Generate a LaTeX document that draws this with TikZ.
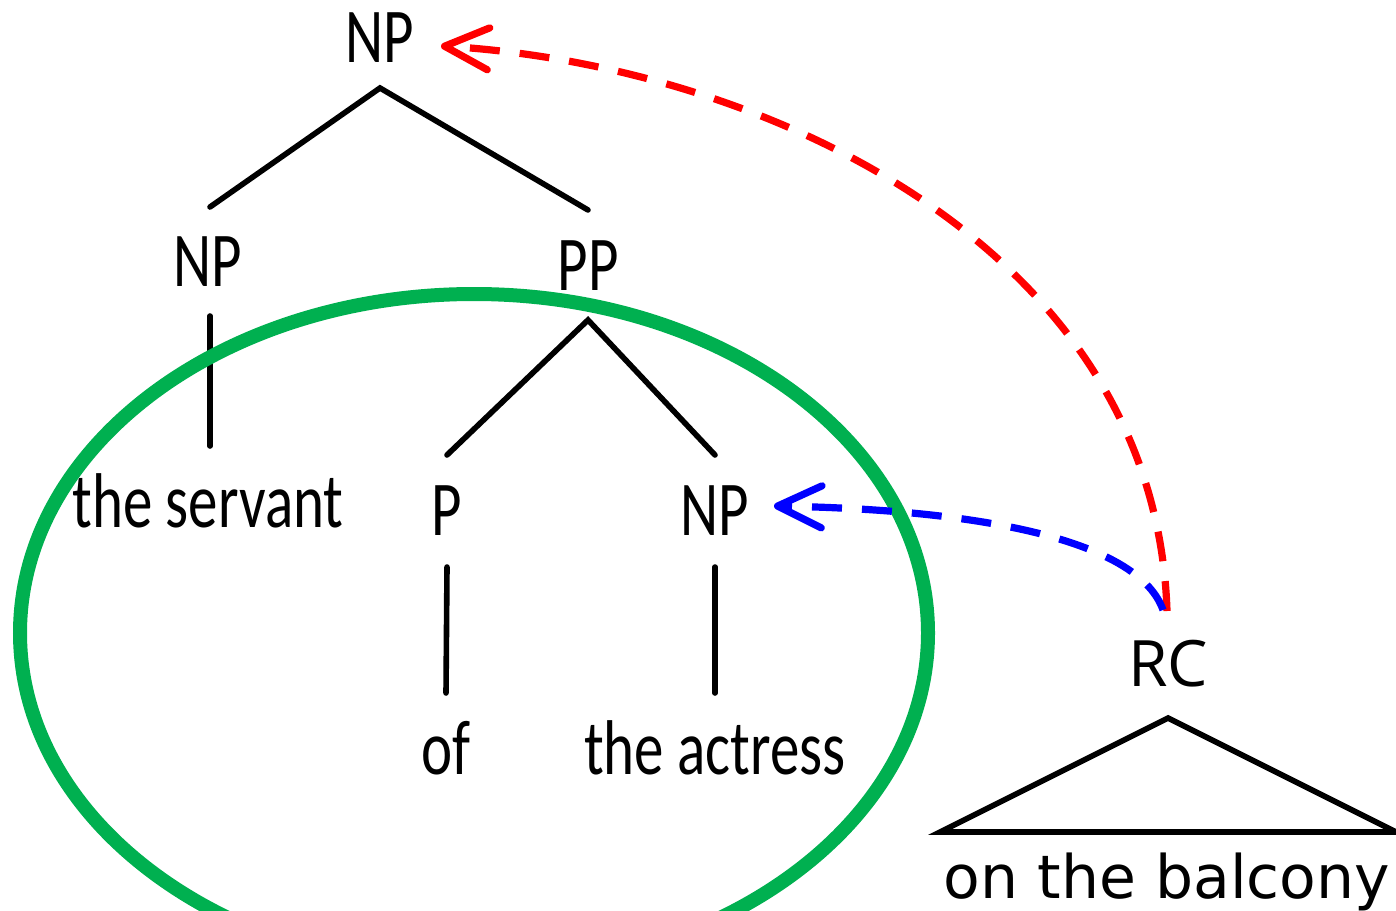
\documentclass[tikz,border=0pt]{standalone}
\usepackage{fontspec}
\usepackage{graphicx}
\usetikzlibrary{arrows.meta}
\newfontfamily\treefont{Carlito}
\newfontfamily\rcfont{Open Sans}
\newfontfamily\leaffont{DejaVu Sans}
\newcommand{\tl}[1]{\scalebox{0.76}[1]{\treefont\fontsize{38.8}{40}\selectfont #1}}
\definecolor{ellgreen}{RGB}{0,176,80}
\tikzset{
  lbl/.style={inner sep=0pt, anchor=base},
  branch/.style={line width=2.8pt, line cap=round},
  arc/.style={line width=3.6pt, dash pattern=on 15pt off 10pt,
    -{Straight Barb[length=22pt,width=21pt,line cap=round,line join=round]}},
}
\begin{document}
\begin{tikzpicture}[x=0.5pt,y=-0.5pt]
\useasboundingbox (0,0) rectangle (1396,910);
% labels
\node[lbl] (np0) at (380,62) {\tl{NP}};
\node[lbl] (np1) at (208,286) {\tl{NP}};
\node[lbl] (pp) at (588,290) {\tl{PP}};
\node[lbl] (serv) at (208,527) {\tl{the servant}};
\node[lbl] (p) at (447,535) {\tl{P}};
\node[lbl] (np2) at (715,535) {\tl{NP}};
\node[lbl] (of) at (446,774) {\tl{of}};
\node[lbl] (actr) at (715,774) {\tl{the actress}};
\node[lbl] (rc) at (1168,686) {\rcfont\fontsize{32}{34}\selectfont RC};
\node[lbl] (balc) at (1167,898) {\leaffont\fontsize{30}{32}\selectfont on the balcony};
% branch points
\coordinate (a0) at (380,88);
\coordinate (a1) at (210,207);
\coordinate (a2) at (588,210);
\coordinate (b0) at (210,316);
\coordinate (b1) at (210,446);
\coordinate (c0) at (588,320);
\coordinate (c1) at (447,455);
\coordinate (c2) at (715,455);
\coordinate (d0) at (447,567);
\coordinate (d1) at (446,693);
\coordinate (e0) at (715,567);
\coordinate (e1) at (715,693);
\coordinate (t0) at (1168,718);
\coordinate (t1) at (940,832);
\coordinate (t2) at (1396,832);
\draw[branch] (a1) -- (a0) -- (a2);
\draw[branch] (b0) -- (b1);
\draw[branch] (c1) -- (c0) -- (c2);
\draw[branch] (d0) -- (d1);
\draw[branch] (e0) -- (e1);
\draw[branch, line join=miter] (t0) -- (t2) -- (t1) -- cycle;
% green ellipse
\draw[ellgreen, line width=7pt] (474,633) ellipse [x radius=454, y radius=339];
% arcs
\coordinate (rs) at (1167,611);
\coordinate (bs) at (1163,610);
\coordinate (rt) at (441,46);
\coordinate (bt) at (774,506);
\draw[arc, red] (rs) .. controls (1155,245) and (760,65) .. (rt);
\draw[arc, blue] (bs) .. controls (1140,545) and (1000,510) .. (bt);
\end{tikzpicture}
\end{document}
